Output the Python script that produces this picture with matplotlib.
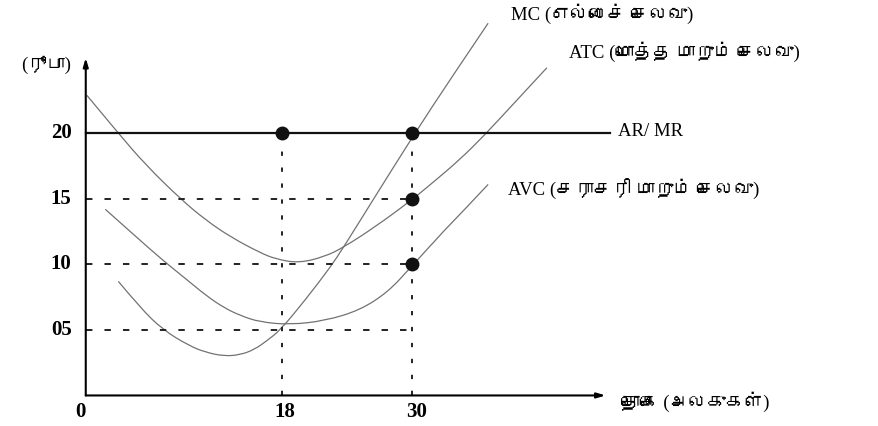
import matplotlib
matplotlib.use("Agg")
import matplotlib.pyplot as plt
from matplotlib import font_manager
from matplotlib.ft2font import FT2Font
from matplotlib.path import Path
from matplotlib.patches import PathPatch

# values (quantity, rupees)
price = 20
ar_end = 48.2
q_marks = [18, 30]
dash_levels = [15, 10, 5]
dots_x = [18, 30, 30, 30]
dots_y = [20, 20, 15, 10]

atc_x = [0.1, 3.0, 5.5, 8.7, 11.0, 13.3, 16.0, 17.5, 19.6, 22.0, 23.7, 26.5, 29.8, 32.0, 34.4, 36.6, 39.5, 42.4]
atc_y = [22.9, 20.0, 17.6, 15.0, 13.4, 12.1, 10.9, 10.4, 10.1, 10.6, 11.3, 12.8, 14.8, 16.3, 18.0, 19.8, 22.4, 25.0]

mc_x = [3.0, 5.0, 7.1, 9.5, 11.0, 12.7, 14.2, 15.5, 16.7, 17.9, 20.2, 22.5, 23.7, 26.4, 30.1, 33.5, 37.0]
mc_y = [8.7, 6.7, 5.0, 3.8, 3.3, 3.0, 3.1, 3.5, 4.2, 5.0, 7.3, 9.8, 11.3, 14.9, 19.8, 24.1, 28.4]

avc_x = [1.8, 4.5, 7.1, 9.2, 11.1, 12.7, 14.2, 16.0, 18.8, 22.0, 25.2, 27.8, 29.8, 33.2, 34.4, 37.0]
avc_y = [14.2, 12.2, 10.3, 8.9, 7.6, 6.7, 6.1, 5.6, 5.4, 5.7, 6.5, 7.9, 9.7, 12.8, 13.8, 16.1]

y_ticks = [20, 15, 10, 5]
y_tick_labels = ["20", "15", "10", "05"]
x_ticks = [0, 18, 30]
x_tick_labels = ["0", "18", "30"]

# find something that can draw Tamil
tamil = None
for f in font_manager.fontManager.ttflist:
    try:
        if 0x0B95 in FT2Font(f.fname).get_charmap():
            tamil = f.name
            break
    except Exception:
        pass
fams = ["Liberation Serif"] + ([tamil] if tamil else []) + ["DejaVu Sans"]


def smooth_curve(ax, xs, ys, **kw):
    # quadratic bezier pieces through the midpoints, so the hand-drawn curve has no corners
    pts = list(zip(xs, ys))
    verts = [pts[0]]
    codes = [Path.MOVETO]
    for i in range(1, len(pts) - 1):
        mid = ((pts[i][0] + pts[i + 1][0]) / 2, (pts[i][1] + pts[i + 1][1]) / 2)
        if i == len(pts) - 2:
            mid = pts[-1]
        verts += [pts[i], mid]
        codes += [Path.CURVE3, Path.CURVE3]
    ax.add_patch(PathPatch(Path(verts, codes), fill=False, **kw))


fig = plt.figure(figsize=(8.79, 4.26), dpi=100)
ax = fig.add_axes([0, 0, 1, 1])
ax.set_xlim(-7.885, 72.94)
ax.set_ylim(-2.33, 30.17)
ax.axis("off")

# axes with arrows
arr = dict(arrowstyle="-|>,head_length=0.5,head_width=0.15", lw=1.5, color="black", shrinkA=0, shrinkB=0)
ax.annotate("", xy=(47.8, 0), xytext=(0, 0), arrowprops=arr)
ax.annotate("", xy=(0, 25.75), xytext=(0, 0), arrowprops=arr)

# dotted guide lines
for lv in dash_levels:
    ax.plot([0, 30], [lv, lv], color="#222222", lw=1.4, ls=(0, (3.3, 6.2)))
for q in q_marks:
    ax.plot([q, q], [0, price], color="#222222", lw=1.4, ls=(0, (2.2, 6.0)))

# AR/MR
ax.plot([0, ar_end], [price, price], color="#111111", lw=1.6)

# cost curves
for cx, cy in [(atc_x, atc_y), (mc_x, mc_y), (avc_x, avc_y)]:
    smooth_curve(ax, cx, cy, edgecolor="#727272", lw=0.9)

ax.plot(dots_x, dots_y, "o", color="#111111", ms=9)

# tick labels
for v, t in zip(y_ticks, y_tick_labels):
    ax.text(-1.3, v, t, ha="right", va="center", fontsize=15, fontweight="bold", family=["Liberation Serif"])
for v, t, dx in zip(x_ticks, x_tick_labels, [-0.5, 0.3, 0.4]):
    ax.text(v + dx, -1.3, t, ha="center", va="center", fontsize=15, fontweight="bold", family=["Liberation Serif"])

# curve labels
ax.text(39.1, 29.15, "MC (எல்லைச் செலவு)", ha="left", va="center", fontsize=13.5, family=fams)
ax.text(44.4, 26.2, "ATC (மொத்த மாறும் செலவு)", ha="left", va="center", fontsize=13.5, family=fams)
ax.text(48.9, 20.1, "AR/ MR", ha="left", va="center", fontsize=13.5, family=fams)
ax.text(38.8, 15.8, "AVC (சராசரி மாறும் செலவு)", ha="left", va="center", fontsize=13.5, family=fams)
ax.text(-1.3, 25.2, "(ரூபா)", ha="right", va="center", fontsize=13.5, family=fams)
ax.text(49.2, -0.5, "தொகை (அலகுகள்)", ha="left", va="center", fontsize=13.5, family=fams)

fig.savefig("out.png", dpi=100, facecolor="white")
